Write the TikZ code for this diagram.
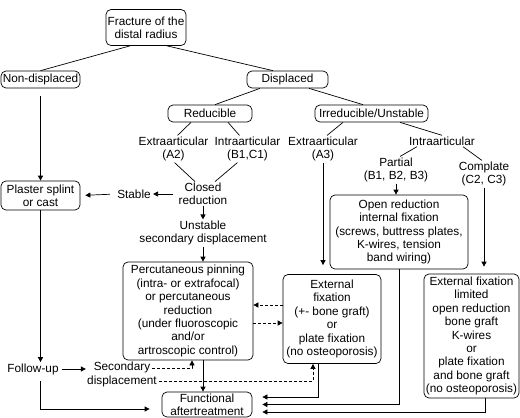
\documentclass[tikz,border=0pt]{standalone}
\usepackage{fontspec}
\setmainfont{Liberation Sans}
\usepackage{tikz}
\usetikzlibrary{shapes,arrows.meta,positioning,calc}

\tikzset{
    rbox/.style={draw, rounded corners=5pt, align=center, inner sep=1pt},
    lbl/.style={align=center, inner sep=1pt},
    dsh/.style={dash pattern=on 3pt off 2pt}
}

\begin{document}
\begin{tikzpicture}[x=1pt,y=-1pt,line width=0.7pt,>={Triangle[length=5pt,width=5pt]},
                    font=\fontsize{11.8}{13.4}\selectfont]
                    \useasboundingbox (0,0) rectangle (520,418);

                    % Top of the tree
                    \node[rbox,minimum width=80,minimum height=36] (fracture) at (146,27.5) {Fracture of the\\distal radius};
                    \node[rbox,minimum width=79,minimum height=17] (nondisp) at (40.5,79.5) {Non-displaced};
                    \node[rbox,minimum width=81,minimum height=17] (disp) at (287.5,79.5) {Displaced};
                    \node[rbox,minimum width=84,minimum height=17] (reduc) at (210,113.5) {Reducible};
                    \node[rbox,minimum width=113,minimum height=17] (irred) at (371.5,113.5) {Irreducible/Unstable};
                    \draw ([xshift=-16pt]fracture.south) -- (nondisp.north);
                    \draw ([xshift=21pt]fracture.south) -- ([xshift=-14.5pt]disp.north);
                    \draw ([xshift=-27.5pt]disp.south) -- ([xshift=5pt]reduc.north);
                    \draw ([xshift=21.5pt]disp.south) -- ([xshift=-8.5pt]irred.north);

                    % Reducible branch
                    \node[lbl] (exA2) at (173.5,149) {Extraarticular\\(A2)};
                    \node[lbl] (inB1) at (247.5,149) {Intraarticular\\(B1,C1)};
                    \node[lbl] (closed) at (203,194) {Closed\\reduction};
                    \node[lbl] (stable) at (134,194) {Stable};
                    \node[lbl] (unstable) at (203,233) {Unstable\\secondary displacement};
                    \draw ([xshift=-19pt]reduc.south) -- ([xshift=4pt]exA2.north);
                    \draw ([xshift=18pt]reduc.south) -- ([xshift=-8pt]inB1.north);
                    \draw ([xshift=1pt]exA2.south) -- ([xshift=-8pt]closed.north);
                    \draw ([xshift=-10pt]inB1.south) -- ([xshift=12pt]closed.north);
                    \draw[->,shorten <=4pt,shorten >=1pt] (closed.west) -- (stable.east);
                    \draw[->] (closed.south) -- (unstable.north);

                    % Irreducible branch
                    \node[lbl] (exA3) at (323,149) {Extraarticular\\(A3)};
                    \node[lbl] (intra) at (442,141) {Intraarticular};
                    \node[lbl] (partial) at (396,170) {Partial\\(B1, B2, B3)};
                    \node[lbl] (compl) at (484,174) {Complate\\(C2, C3)};
                    \draw ([xshift=-28.5pt]irred.south) -- ([xshift=4pt]exA3.north);
                    \draw ([xshift=28.5pt]irred.south) -- (intra.north);
                    \draw ([xshift=-25pt]intra.south) -- ([xshift=4pt]partial.north);
                    \draw ([xshift=21pt]intra.south) -- ([xshift=-2pt]compl.north);

                    % Treatments
                    \node[rbox,minimum width=79,minimum height=29] (plaster) at (40.5,195.5) {Plaster splint\\or cast};
                    \node[rbox,minimum width=130,minimum height=98] (percut) at (188,311) {Percutaneous pinning\\(intra- or extrafocal)\\or percutaneous\\reduction\\(under fluoroscopic\\and/or\\artroscopic control)};
                    \node[rbox,minimum width=138,minimum height=74] (openred) at (399,232) {Open reduction\\internal fixation\\(screws, buttress plates,\\K-wires, tension\\band wiring)};
                    \node[rbox,minimum width=98,minimum height=89] (extfix) at (332,319) {External\\fixation\\(+- bone graft)\\or\\plate fixation\\(no osteoporosis)};
                    \node[rbox,minimum width=95,minimum height=124] (extlim) at (471.5,336) {External fixation\\limited\\open reduction\\bone graft\\K-wires\\or\\plate fixation\\and bone graft\\(no osteoporosis)};
                    \node[rbox,minimum width=90,minimum height=25] (func) at (207,404.5) {Functional\\aftertreatment};
                    \draw[->,shorten <=8pt] (nondisp.south) -- (plaster.north);
                    \draw[->,shorten <=6pt,shorten >=5pt] (stable.west) -- (plaster.east);
                    \draw[->] (unstable.south) -- (unstable.south |- percut.north);
                    \draw[->] (partial.south) -- (partial.south |- openred.north);
                    \draw[->,shorten >=9pt] (exA3.south) -- (exA3.south |- extfix.north);
                    \draw[->,shorten >=7pt] (compl.south) -- (compl.south |- extlim.north);

                    % Follow-up
                    \node[lbl] (follow) at (33,369) {Follow-up};
                    \node[lbl] (secdisp) at (122,374.5) {Secondary\\displacement};
                    \coordinate (sd1) at (152,368);
                    \coordinate (sd2) at (159,381);
                    \draw[->] (plaster.south) -- (plaster.south |- follow.north);
                    \draw[->,shorten <=2pt] (follow.east) -- (follow.east -| secdisp.west);
                    \draw[->,shorten <=5pt,shorten >=12pt] (follow.south -| plaster.south) |- ([yshift=-4.5pt]func.west);

                    % dashed returns
                    \draw[->,dsh] (sd1) -| ([xshift=4pt]percut.south);
                    \draw[->,dsh] (sd2) -| ([xshift=-19pt]extfix.south);
                    \draw[->,dsh] ([yshift=14pt]extfix.west) -- ([yshift=6pt]percut.east);
                    \draw[->,dsh] ([yshift=-12pt]percut.east) -- ([yshift=-4pt]extfix.west);

                    % into aftertreatment
                    \draw[->] (percut.south -| unstable.south) -- (func.north -| unstable.south);
                    \draw[->,shorten >=10pt] ([xshift=-14pt]extfix.south) |- ([yshift=7.5pt]func.east);
                    \draw[->,shorten >=10pt] (openred.south) |- (func.east);
                    \draw[->,shorten >=10pt] ([xshift=13.5pt]extlim.south) |- ([yshift=-7.5pt]func.east);
                \end{tikzpicture}
\end{document}
